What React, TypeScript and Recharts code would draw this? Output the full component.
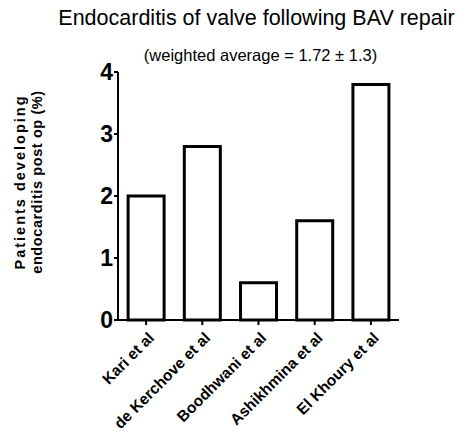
import { BarChart, Bar, XAxis, YAxis } from "recharts";

const studies = ["Kari et al", "de Kerchove et al", "Boodhwani et al", "Ashikhmina et al", "El Khoury et al"];
const endocarditisPct = [2.0, 2.8, 0.6, 1.6, 3.8];
const yTicks = [0, 1, 2, 3, 4];

const chartData = studies.map((name, i) => ({ name, value: endocarditisPct[i] }));

const font = "Arial, 'Liberation Sans', Helvetica, sans-serif";

function XTick(props: any) {
  const { x, y, payload } = props;
  return (
    <text
      x={x + 5}
      y={y + 8}
      transform={`rotate(-45, ${x + 5}, ${y + 8})`}
      textAnchor="end"
      dominantBaseline="central"
      fontFamily={font}
      fontWeight="bold"
      fontSize={15.5}
      fill="#000"
    >
      {payload.value}
    </text>
  );
}

function YLabel() {
  return (
    <g transform="translate(0, 182) rotate(-90)">
      <text x={0} y={20} textAnchor="middle" dominantBaseline="central" fontFamily={font} fontWeight="bold" fontSize={14.5} letterSpacing={2} fill="#000">
        Patients developing
      </text>
      <text x={0} y={37} textAnchor="middle" dominantBaseline="central" fontFamily={font} fontWeight="bold" fontSize={14.5} letterSpacing={0.6} fill="#000">
        endocarditis post op (%)
      </text>
    </g>
  );
}

export default function App() {
  return (
    <div style={{ position: "absolute", left: 0, top: 0, width: 461, height: 439, background: "#fff" }}>
      <div
        style={{
          position: "absolute",
          left: 0,
          width: 461,
          top: 4,
          textAlign: "center",
          paddingLeft: 52,
          boxSizing: "border-box",
          fontFamily: font,
          fontSize: 21.5,
          lineHeight: "28px",
          color: "#000",
          whiteSpace: "nowrap",
        }}
      >
        Endocarditis of valve following BAV repair
      </div>
      <div
        style={{
          position: "absolute",
          left: 0,
          width: 461,
          top: 44,
          textAlign: "center",
          paddingLeft: 60,
          boxSizing: "border-box",
          fontFamily: font,
          fontSize: 16.5,
          lineHeight: "22px",
          color: "#000",
          whiteSpace: "nowrap",
        }}
      >
        (weighted average = 1.72 ± 1.3)
      </div>
      <BarChart
        width={461}
        height={439}
        data={chartData}
        margin={{ top: 72, right: 62, bottom: 9, left: 0 }}
        barCategoryGap="18%"
        style={{ position: "absolute", left: 0, top: 0 }}
      >
        <XAxis
          dataKey="name"
          height={110}
          interval={0}
          tick={<XTick />}
          tickSize={5}
          axisLine={{ stroke: "#000", strokeWidth: 2 }}
          tickLine={{ stroke: "#000", strokeWidth: 2 }}
        />
        <YAxis
          width={118}
          domain={[0, 4]}
          ticks={yTicks}
          interval={0}
          tickSize={4}
          tickMargin={1}
          axisLine={{ stroke: "#000", strokeWidth: 2 }}
          tickLine={{ stroke: "#000", strokeWidth: 2 }}
          tick={{ fill: "#000", fontFamily: font, fontWeight: "bold", fontSize: 23 }}
          label={<YLabel />}
        />
        <Bar dataKey="value" fill="#fff" stroke="#000" strokeWidth={3} isAnimationActive={false} />
      </BarChart>
    </div>
  );
}
